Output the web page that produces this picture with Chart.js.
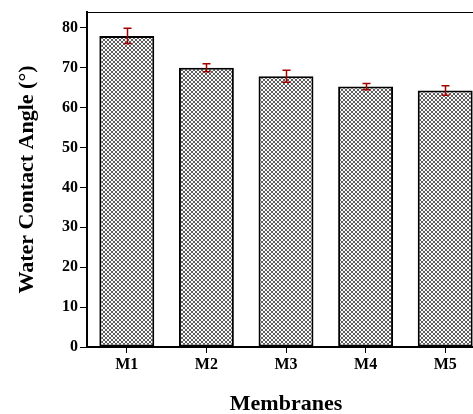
<!DOCTYPE html>
<html>
<head>
<meta charset="utf-8">
<script src="https://cdn.jsdelivr.net/npm/chart.js@4.4.0/dist/chart.umd.min.js"></script>
<style>
  html, body { margin:0; padding:0; background:#fff; overflow:hidden; }
  #wrap { position:relative; width:500px; height:414px; }
</style>
</head>
<body>
<div id="wrap"><canvas id="angleChart" width="500" height="414"></canvas></div>
<script>
  const membranes = ['M1', 'M2', 'M3', 'M4', 'M5'];
  const contactAngle = [78.0, 70.0, 67.9, 65.3, 64.3];
  const angleError = [1.9, 1.0, 1.5, 0.8, 1.2];
  const yTicks = [0, 10, 20, 30, 40, 50, 60, 70, 80];

  // pixel cross-hatch tile, like the printed fill
  function makeHatch() {
    const n = 4;
    const c = document.createElement('canvas'); c.width = n; c.height = n;
    const g = c.getContext('2d');
    const img = g.createImageData(n, n);
    for (let yy = 0; yy < n; yy++) for (let xx = 0; xx < n; xx++) {
      const dark = xx === yy || xx === n - 1 - yy;
      const k = (yy * n + xx) * 4;
      const v = dark ? 95 : 250;
      img.data[k] = img.data[k+1] = img.data[k+2] = v; img.data[k+3] = 255;
    }
    g.putImageData(img, 0, 0);
    return g.createPattern(c, 'repeat');
  }

  const errorBars = {
    id: 'errorBars',
    afterDatasetsDraw(chart) {
      const { ctx, scales: { x, y } } = chart;
      ctx.save();
      ctx.strokeStyle = '#a30000'; ctx.lineWidth = 1.5;
      contactAngle.forEach((v, i) => {
        const px = Math.round(x.getPixelForValue(i)) + 0.5;
        const top = y.getPixelForValue(v + angleError[i]);
        const bot = y.getPixelForValue(v - angleError[i]);
        ctx.beginPath();
        ctx.moveTo(px, top); ctx.lineTo(px, bot);
        ctx.moveTo(px - 4, top); ctx.lineTo(px + 4, top);
        ctx.moveTo(px - 4, bot); ctx.lineTo(px + 4, bot);
        ctx.stroke();
      });
      ctx.restore();
    }
  };

  const frame = {
    id: 'frame',
    afterDraw(chart) {
      const { ctx, chartArea: a } = chart;
      ctx.save();
      ctx.strokeStyle = '#000'; ctx.lineWidth = 1;
      ctx.beginPath(); ctx.moveTo(a.left, a.top + 0.5); ctx.lineTo(a.right, a.top + 0.5); ctx.stroke();
      ctx.restore();
    }
  };

  const serif = '"Liberation Serif", "DejaVu Serif", serif';
  const ctx = document.getElementById('angleChart').getContext('2d');
  new Chart(ctx, {
    type: 'bar',
    data: {
      labels: membranes,
      datasets: [{
        data: contactAngle,
        backgroundColor: makeHatch(),
        borderColor: '#000',
        borderWidth: 2,
        borderSkipped: false,
        barPercentage: 0.69,
        categoryPercentage: 1.0
      }]
    },
    options: {
      responsive: false,
      animation: false,
      layout: { padding: { top: 12, right: 15, left: 0, bottom: 0 } },
      plugins: { legend: { display: false }, tooltip: { enabled: false } },
      scales: {
        x: {
          grid: { drawOnChartArea: false, offset: false, tickLength: 6, color: '#000' },
          border: { color: '#000', width: 2 },
          ticks: { color: '#000', padding: 2, font: { family: serif, size: 16, weight: 'bold' } },
          title: { display: true, text: 'Membranes', color: '#000', padding: { top: 0, bottom: 0 },
                   font: { family: serif, size: 22, weight: 'bold', lineHeight: 0.9 } },
          afterFit(s) { s.height = 67; }
        },
        y: {
          min: 0, max: 84,
          afterBuildTicks(s) { s.ticks = yTicks.map(v => ({ value: v })); },
          grid: { drawOnChartArea: false, tickLength: 7, color: '#000' },
          border: { color: '#000', width: 2 },
          ticks: { color: '#000', padding: 2, font: { family: serif, size: 16, weight: 'bold' } },
          title: { display: true, text: 'Water Contact Angle (°)', color: '#000', padding: { top: 14, bottom: 0 },
                   font: { family: serif, size: 22, weight: 'bold' } },
          afterFit(s) { s.width = 87; }
        }
      }
    },
    plugins: [errorBars, frame]
  });
</script>
</body>
</html>
